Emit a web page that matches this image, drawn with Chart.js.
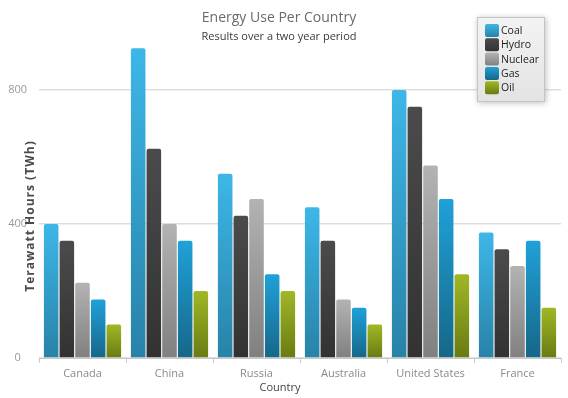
<!DOCTYPE html>
<html>
<head>
<meta charset="utf-8">
<script src="https://cdn.jsdelivr.net/npm/chart.js@4.4.1/dist/chart.umd.min.js"></script>
<style>
  html, body { margin: 0; padding: 0; background: #fff; }
  #holder { width: 568px; height: 398px; position: relative; }
</style>
</head>
<body>
<div id="holder"><canvas id="chart" width="568" height="398"></canvas></div>
<script>
// data
var countries = ["Canada", "China", "Russia", "Australia", "United States", "France"];
var seriesNames = ["Coal", "Hydro", "Nuclear", "Gas", "Oil"];
var coal    = [400, 925, 550, 450, 800, 375];
var hydro   = [350, 625, 425, 350, 750, 325];
var nuclear = [225, 400, 475, 175, 575, 275];
var gas     = [175, 350, 250, 150, 475, 350];
var oil     = [100, 200, 200, 100, 250, 150];
var yTicks  = [0, 400, 800];

// top / bottom gradient colours per series
var topColors    = ["#3db7e8", "#4b4b4b", "#b3b3b3", "#1fa1d9", "#a1b726"];
var bottomColors = ["#2882a8", "#323232", "#808080", "#166787", "#697b12"];

var FONT = "'Open Sans', sans-serif";

function barGradient(i) {
  return function(ctx) {
    var chart = ctx.chart;
    if (!chart.chartArea || ctx.dataIndex === undefined) return topColors[i];
    var y = chart.scales.y;
    var v = ctx.raw;
    var top = y.getPixelForValue(v);
    var bot = y.getPixelForValue(0);
    if (bot - top < 1) return topColors[i];
    var g = chart.ctx.createLinearGradient(0, top, 0, bot);
    g.addColorStop(0, topColors[i]);
    g.addColorStop(1, bottomColors[i]);
    return g;
  };
}

var allSeries = [coal, hydro, nuclear, gas, oil];
var datasets = allSeries.map(function(d, i) {
  return {
    label: seriesNames[i],
    data: d,
    backgroundColor: barGradient(i),
    borderWidth: 0,
    borderRadius: { topLeft: 2, topRight: 2 },
    categoryPercentage: 0.9,
    barPercentage: 0.93
  };
});

// titles, y title and the boxed legend
var decorations = {
  id: "decorations",
  afterDraw: function(chart) {
    var c = chart.ctx;
    c.save();
    c.textAlign = "center";
    c.textBaseline = "middle";
    c.fillStyle = "#6a6a6a";
    c.font = "14px " + FONT;
    c.fillText("Energy Use Per Country", 279, 18);
    c.fillStyle = "#3a3a3a";
    c.font = "11px " + FONT;
    c.fillText("Results over a two year period", 279, 37);

    c.fillStyle = "#444";
    c.font = "11px " + FONT;
    c.fillText("Country", 280, 388);

    c.save();
    c.translate(31, 216);
    c.rotate(-Math.PI / 2);
    c.fillStyle = "#4a4a4a";
    c.font = "bold 12px " + FONT;
    c.letterSpacing = "1px";
    c.fillText("Terawatt Hours (TWh)", 0, 0);
    c.restore();

    // legend box
    var lx = 477, ly = 17, lw = 68, lh = 85;
    c.save();
    c.shadowColor = "rgba(0,0,0,0.25)";
    c.shadowBlur = 6;
    c.shadowOffsetX = 1;
    c.shadowOffsetY = 1;
    var lg = c.createLinearGradient(0, ly, 0, ly + lh);
    lg.addColorStop(0, "#f3f3f3");
    lg.addColorStop(1, "#e3e3e3");
    c.fillStyle = lg;
    c.fillRect(lx, ly, lw, lh);
    c.restore();
    c.strokeStyle = "#c4c4c4";
    c.lineWidth = 1;
    c.strokeRect(lx + 0.5, ly + 0.5, lw - 1, lh - 1);

    c.textAlign = "left";
    c.font = "10.5px " + FONT;
    for (var i = 0; i < seriesNames.length; i++) {
      var yy = 30 + i * 14.3;
      var mg = c.createLinearGradient(0, yy - 6, 0, yy + 7);
      mg.addColorStop(0, topColors[i]);
      mg.addColorStop(1, bottomColors[i]);
      c.fillStyle = mg;
      c.beginPath();
      c.roundRect(485, yy - 6, 14, 13, 2);
      c.fill();
      c.fillStyle = "#222";
      c.fillText(seriesNames[i], 501, yy + 1);
    }
    c.restore();
  }
};

new Chart(document.getElementById("chart"), {
  type: "bar",
  data: { labels: countries, datasets: datasets },
  plugins: [decorations],
  options: {
    responsive: false,
    animation: false,
    layout: { padding: { left: 0, right: 7, top: 23, bottom: 0 } },
    plugins: {
      legend: { display: false },
      title: { display: false },
      tooltip: { enabled: false }
    },
    scales: {
      x: {
        grid: { drawOnChartArea: false, drawTicks: true, tickLength: 5, color: "#c8c8c8", offset: true },
        border: { color: "#c8c8c8" },
        ticks: { color: "#8a8a8a", font: { family: FONT, size: 11 }, padding: 4 },
        afterFit: function(s) { s.height = 40; }
      },
      y: {
        min: 0,
        max: 1000,
        afterBuildTicks: function(s) { s.ticks = yTicks.map(function(v) { return { value: v }; }); },
        grid: { color: "#dedede", lineWidth: 1.5, drawTicks: false },
        border: { display: false },
        ticks: { color: "#9a9a9a", font: { family: FONT, size: 11 }, crossAlign: "center", padding: 12 },
        afterFit: function(s) { s.width = 39; }
      }
    }
  }
});
</script>
</body>
</html>
